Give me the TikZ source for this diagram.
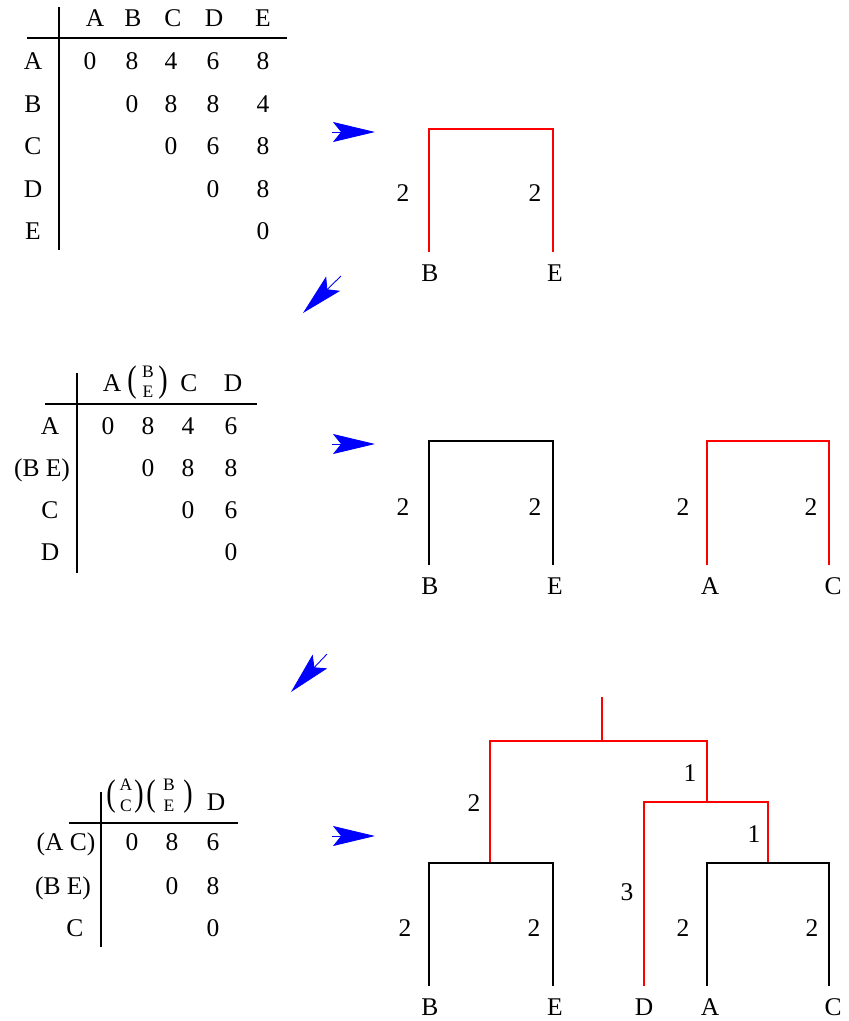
\documentclass[tikz,border=0pt]{standalone}
\usepackage{fontspec}
\usepackage{graphicx}
\setmainfont{Liberation Serif}
\usetikzlibrary{arrows.meta}
% tall brackets round a stacked pair of merged labels
\newcommand{\openbr}{\scalebox{1.1}[1.45]{(}}
\newcommand{\closebr}{\scalebox{1.1}[1.45]{)}}
\begin{document}
\begin{tikzpicture}[x=1pt,y=-1pt,
  every node/.style={font=\fontsize{25.5}{30}\selectfont, inner sep=0pt, text height=17pt, text depth=0pt},
  tiny/.style={font=\fontsize{17.5}{18}\selectfont, text height=11.6pt, text depth=0pt},
  rule/.style={line width=2pt, black},
  branch/.style={line width=2.6pt, black},
  hot/.style={line width=2.6pt, red},
  flow/.style={blue, line width=0.9pt, -{Stealth[length=42pt,width=20pt,inset=8pt]}},
]
\useasboundingbox (0,0) rectangle (849,1021);

% ---------- table 1 ----------
\draw[rule] (59,7) -- (59,250);
\draw[rule] (27,38) -- (287,38);
\foreach \t/\x in {A/95,B/133,C/173,D/214,E/263}
  \node (h1\t) at (\x,18) {\t};
\foreach \t/\y in {A/61,B/103.5,C/146,D/188.5,E/231}
  \node (r1\t) at (33,\y) {\t};
\node at (90,61) {0};  \node at (132,61) {8};  \node at (171,61) {4};  \node at (213,61) {6};  \node at (263,61) {8};
\node at (132,103.5) {0}; \node at (171,103.5) {8}; \node at (213,103.5) {8}; \node at (263,103.5) {4};
\node at (171,146) {0}; \node at (213,146) {6}; \node at (263,146) {8};
\node at (213,188.5) {0}; \node at (263,188.5) {8};
\node at (263,231) {0};

% ---------- tree 1 ----------
\coordinate (t1l) at (429,129); \coordinate (t1r) at (553,129);
\node (t1B) at (430,273) {B};
\node (t1E) at (555,273) {E};
\draw[hot] (429,252) -- (t1l) -- (t1r) -- (553,252);
\node at (403,193) {2};
\node at (535,193) {2};

% ---------- table 2 ----------
\draw[rule] (77,373) -- (77,573);
\draw[rule] (45,404) -- (257,404);
\node at (112,383) {A};
\node at (132,383) {\openbr};
\node[tiny] at (148,372) {B};
\node[tiny] at (148,392) {E};
\node at (163,383) {\closebr};
\node at (189,383) {C};
\node at (233,383) {D};
\node at (50,426) {A};
\node at (42,468) {(B E)};
\node at (50,510) {C};
\node at (50,552) {D};
\node at (108,426) {0}; \node at (148,426) {8}; \node at (188,426) {4}; \node at (231,426) {6};
\node at (148,468) {0}; \node at (188,468) {8}; \node at (231,468) {8};
\node at (188,510) {0}; \node at (231,510) {6};
\node at (231,552) {0};

% ---------- tree 2 ----------
\draw[branch] (429,565) -- (429,441) -- (553,441) -- (553,565);
\draw[hot] (707,565) -- (707,441) -- (829,441) -- (829,565);
\node at (403,507) {2}; \node at (535,507) {2};
\node at (683,507) {2}; \node at (811,507) {2};
\node at (430,586) {B}; \node at (555,586) {E};
\node at (710,586) {A}; \node at (833,586) {C};

% ---------- table 3 ----------
\draw[rule] (101,792) -- (101,947);
\draw[rule] (69,823) -- (238,823);
\node at (111,797) {\openbr};
\node[tiny] at (126,785) {A};
\node[tiny] at (126,806) {C};
\node at (139,797) {\closebr};
\node at (151,797) {\openbr};
\node[tiny] at (169,785) {B};
\node[tiny] at (169,806) {E};
\node at (188,797) {\closebr};
\node at (216,802) {D};
\node at (66,842) {(A C)};
\node at (63,886) {(B E)};
\node at (75,928) {C};
\node at (132,842) {0}; \node at (172,842) {8}; \node at (213,842) {6};
\node at (172,886) {0}; \node at (213,886) {8};
\node at (213,928) {0};

% ---------- tree 3 ----------
\coordinate (root) at (602,697);
\coordinate (top)  at (602,741);
\coordinate (mid)  at (707,802);
\draw[hot] (root) -- (top);
\draw[hot] (490,863) -- (490,741) -- (707,741) -- (mid);
\draw[hot] (644,986) -- (644,802) -- (768,802) -- (768,863);
\draw[branch] (429,986) -- (429,863) -- (553,863) -- (553,986);
\draw[branch] (707,986) -- (707,863) -- (829,863) -- (829,986);
\node at (474,803) {2};
\node at (690,773) {1};
\node at (754,834) {1};
\node at (627,892) {3};
\node at (405,928) {2}; \node at (534,928) {2};
\node at (683,928) {2}; \node at (812,928) {2};
\node at (430,1007) {B}; \node at (555,1007) {E};
\node at (644,1007) {D}; \node at (710,1007) {A}; \node at (833,1007) {C};

% ---------- flow arrows ----------
\coordinate (f1a) at (332,132); \coordinate (f1b) at (375,132);
\coordinate (f2a) at (341,276); \coordinate (f2b) at (303,313);
\coordinate (f3a) at (332,444); \coordinate (f3b) at (375,444);
\coordinate (f4a) at (327,654); \coordinate (f4b) at (291,692);
\coordinate (f5a) at (332,836); \coordinate (f5b) at (375,836);
\draw[flow] (f1a) -- (f1b);
\draw[flow] (f2a) -- (f2b);
\draw[flow] (f3a) -- (f3b);
\draw[flow] (f4a) -- (f4b);
\draw[flow] (f5a) -- (f5b);
\end{tikzpicture}
\end{document}
